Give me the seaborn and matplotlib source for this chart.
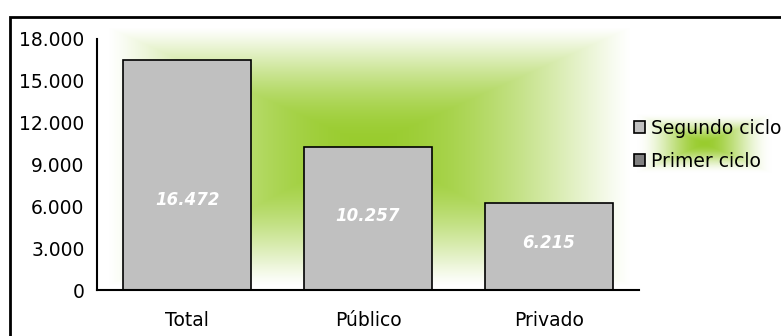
import numpy as np
import pandas as pd
import seaborn as sns
import matplotlib.pyplot as plt
from matplotlib.patches import Rectangle, Patch
from matplotlib.ticker import FuncFormatter, FixedLocator

# Datos
categorias = ['Total', 'Público', 'Privado']
segundo_ciclo = [16472, 10257, 6215]
primer_ciclo = [0, 0, 0]
series = ['Segundo ciclo', 'Primer ciclo']
colores = ['#C0C0C0', '#808080']
yticks = [0, 3000, 6000, 9000, 12000, 15000, 18000]

df = pd.DataFrame({'Categoria': categorias,
                   'Segundo ciclo': segundo_ciclo,
                   'Primer ciclo': primer_ciclo})

sns.set_style('white')
plt.rcParams['font.family'] = ['DejaVu Sans']
plt.rcParams['text.color'] = 'black'
plt.rcParams['xtick.color'] = 'black'
plt.rcParams['ytick.color'] = 'black'
plt.rcParams['xtick.labelcolor'] = 'black'
plt.rcParams['ytick.labelcolor'] = 'black'

W, H = 781, 336
fig = plt.figure(figsize=(W / 100, H / 100), dpi=100)


def degradado(cx, cy, izq, der, arr, aba, p=1.0):
    # degradado rectangular desde el centro (estilo Excel), bordes suaves
    xx, yy = np.meshgrid(np.arange(W), np.arange(H))
    dx = xx - cx
    dy = yy - cy
    tx = np.where(dx < 0, -dx / izq, dx / der)
    ty = np.where(dy < 0, -dy / arr, dy / aba)
    t = np.clip(1 - np.maximum(tx, ty), 0, 1)
    return (3 * t ** 2 - 2 * t ** 3) ** p


# fondo con resplandor verde
bg = fig.add_axes([0, 0, 1, 1], zorder=-2)
g = np.maximum(degradado(368, 145, 260, 262, 118, 140, 0.6),
               degradado(704, 143, 68, 68, 30, 30, 1.0))
verde = np.array([0.60, 0.80, 0.18])
img = 1 - g[..., None] * (1 - verde)
bg.imshow(img, extent=[0, W, H, 0], aspect='auto')
bg.set_axis_off()

# borde del gráfico
fig.patches.append(Rectangle((10 / W, -0.1), 1.2, 1 - 17 / H + 0.1,
                             transform=fig.transFigure, fill=False,
                             edgecolor='black', linewidth=2))

ax = fig.add_axes([97 / W, 1 - 290 / H, (639 - 97) / W, (290 - 39) / H])
ax.set_facecolor('none')
sns.barplot(data=df, x='Categoria', y='Primer ciclo', color=colores[1],
            edgecolor='black', linewidth=1.2, width=0.71, ax=ax)
sns.barplot(data=df, x='Categoria', y='Segundo ciclo', color=colores[0],
            edgecolor='black', linewidth=1.2, width=0.71, ax=ax)

ax.set_xlim(-0.5, 2.5)
ax.set_ylim(0, 18000)
ax.set_yticks(yticks)
ax.yaxis.set_major_formatter(FuncFormatter(lambda v, p: f'{v:,.0f}'.replace(',', '.')))
ax.xaxis.set_minor_locator(FixedLocator([-0.5, 0.5, 1.5, 2.5]))
ax.tick_params(axis='x', which='major', length=0, pad=15, labelsize=13.5)
ax.tick_params(axis='x', which='minor', length=6, width=1.2, color='black', direction='out')
ax.tick_params(axis='y', length=6, width=1.2, color='black', direction='out', labelsize=13.5, pad=3)
ax.set_xlabel('')
ax.set_ylabel('')
for s in ['top', 'right']:
    ax.spines[s].set_visible(False)
for s in ['left', 'bottom']:
    ax.spines[s].set_color('black')
    ax.spines[s].set_linewidth(1.5)

# etiquetas de valores
posiciones = [0.39, 0.52, 0.54]
for i, v in enumerate(segundo_ciclo):
    ax.text(i, v * posiciones[i], f'{v:,}'.replace(',', '.'), ha='center', va='center',
            color='white', fontsize=12, fontweight='bold', fontstyle='italic')

handles = [Patch(facecolor=c, edgecolor='black', linewidth=1.2) for c in colores]
fig.legend(handles, series, loc='center left', bbox_to_anchor=(626 / W, 1 - 145 / H),
           frameon=False, fontsize=13.5, handlelength=0.6, handleheight=0.6,
           handletextpad=0.35, labelspacing=0.75, borderaxespad=0)

fig.savefig('out.png', dpi=100)
